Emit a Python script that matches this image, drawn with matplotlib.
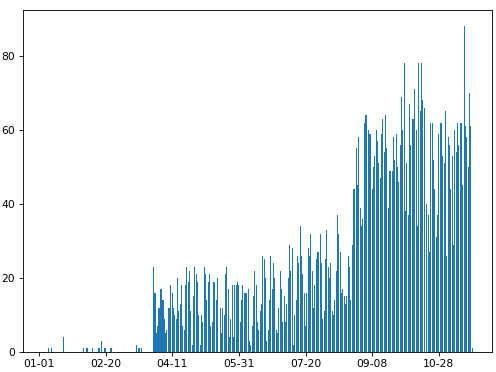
import matplotlib
matplotlib.use("Agg")
import matplotlib.pyplot as plt
import matplotlib.dates as mdates
import numpy as np
import pandas as pd

start = "2021-01-01"

# day offset -> count for the sparse early period
early_days = [7, 9, 18, 33, 36, 40, 45, 47, 49, 50, 54, 73, 75, 77]
early_vals = [1, 1, 4, 1, 1, 1, 1, 3, 1, 1, 1, 2, 1, 1]

# daily counts from day 86 onwards
daily_vals = [
    23, 16, 5, 7, 12, 17, 17, 14, 9, 5, 6, 12, 12, 18, 16, 12, 10, 9, 20,
    11, 13, 18, 7, 6, 18, 23, 19, 22, 11, 2, 15, 23, 21, 19, 10, 2, 10, 8, 23, 21, 14, 19,
    21, 7, 8, 19, 19, 14, 20, 0, 12, 5, 12, 10, 21, 23, 17, 4, 9, 18, 4, 18, 18, 19,
    18, 8, 14, 18, 16, 16, 16, 17, 3, 2, 7, 15, 22, 18, 8, 6, 11, 13, 26, 25, 20, 3,
    6, 14, 26, 17, 24, 20, 6, 5, 12, 22, 17, 8, 15, 8, 13, 20, 29, 22, 28, 2, 10, 14,
    26, 24, 34, 26, 21, 16, 7, 16, 28, 26, 32, 22, 12, 18, 25, 27, 27, 32, 24, 9, 11, 25,
    33, 23, 20, 24, 11, 10, 14, 22, 37, 32, 27, 16, 17, 15, 13, 15, 26, 23, 14, 29, 44, 44,
    55, 45, 58, 39, 34, 36, 62, 64, 64, 60, 59, 59, 44, 50, 53, 60, 57, 51, 47, 59, 63, 54,
    64, 55, 39, 49, 49, 49, 58, 52, 59, 50, 46, 56, 69, 60, 78, 38, 51, 37, 67, 56, 63, 63,
    71, 60, 34, 78, 65, 78, 68, 66, 0, 40, 37, 27, 62, 62, 52, 44, 31, 37, 59, 62, 62, 53, 51,
    65, 26, 58, 56, 44, 53, 29, 60, 54, 62, 56, 62, 62, 45, 88, 61, 58, 50, 70, 61, 1,
]

counts = np.zeros(86 + len(daily_vals))
counts[early_days] = early_vals
counts[86:] = daily_vals
dates = pd.date_range(start, periods=len(counts), freq="D")

fig, ax = plt.subplots(figsize=(6.4, 4.8), dpi=77.5)
fig.subplots_adjust(left=0.046, right=0.992, top=0.973, bottom=0.054)

ax.bar(dates, counts, color="#1f77b4")

d0 = pd.Timestamp(start)
ax.set_xticks([d0 + pd.Timedelta(days=50 * k) for k in range(7)])
ax.xaxis.set_major_formatter(mdates.DateFormatter("%m-%d"))
ax.set_xlim(d0 - pd.Timedelta(days=12.2), d0 + pd.Timedelta(days=340))

fig.savefig("out.png", dpi=77.5)
